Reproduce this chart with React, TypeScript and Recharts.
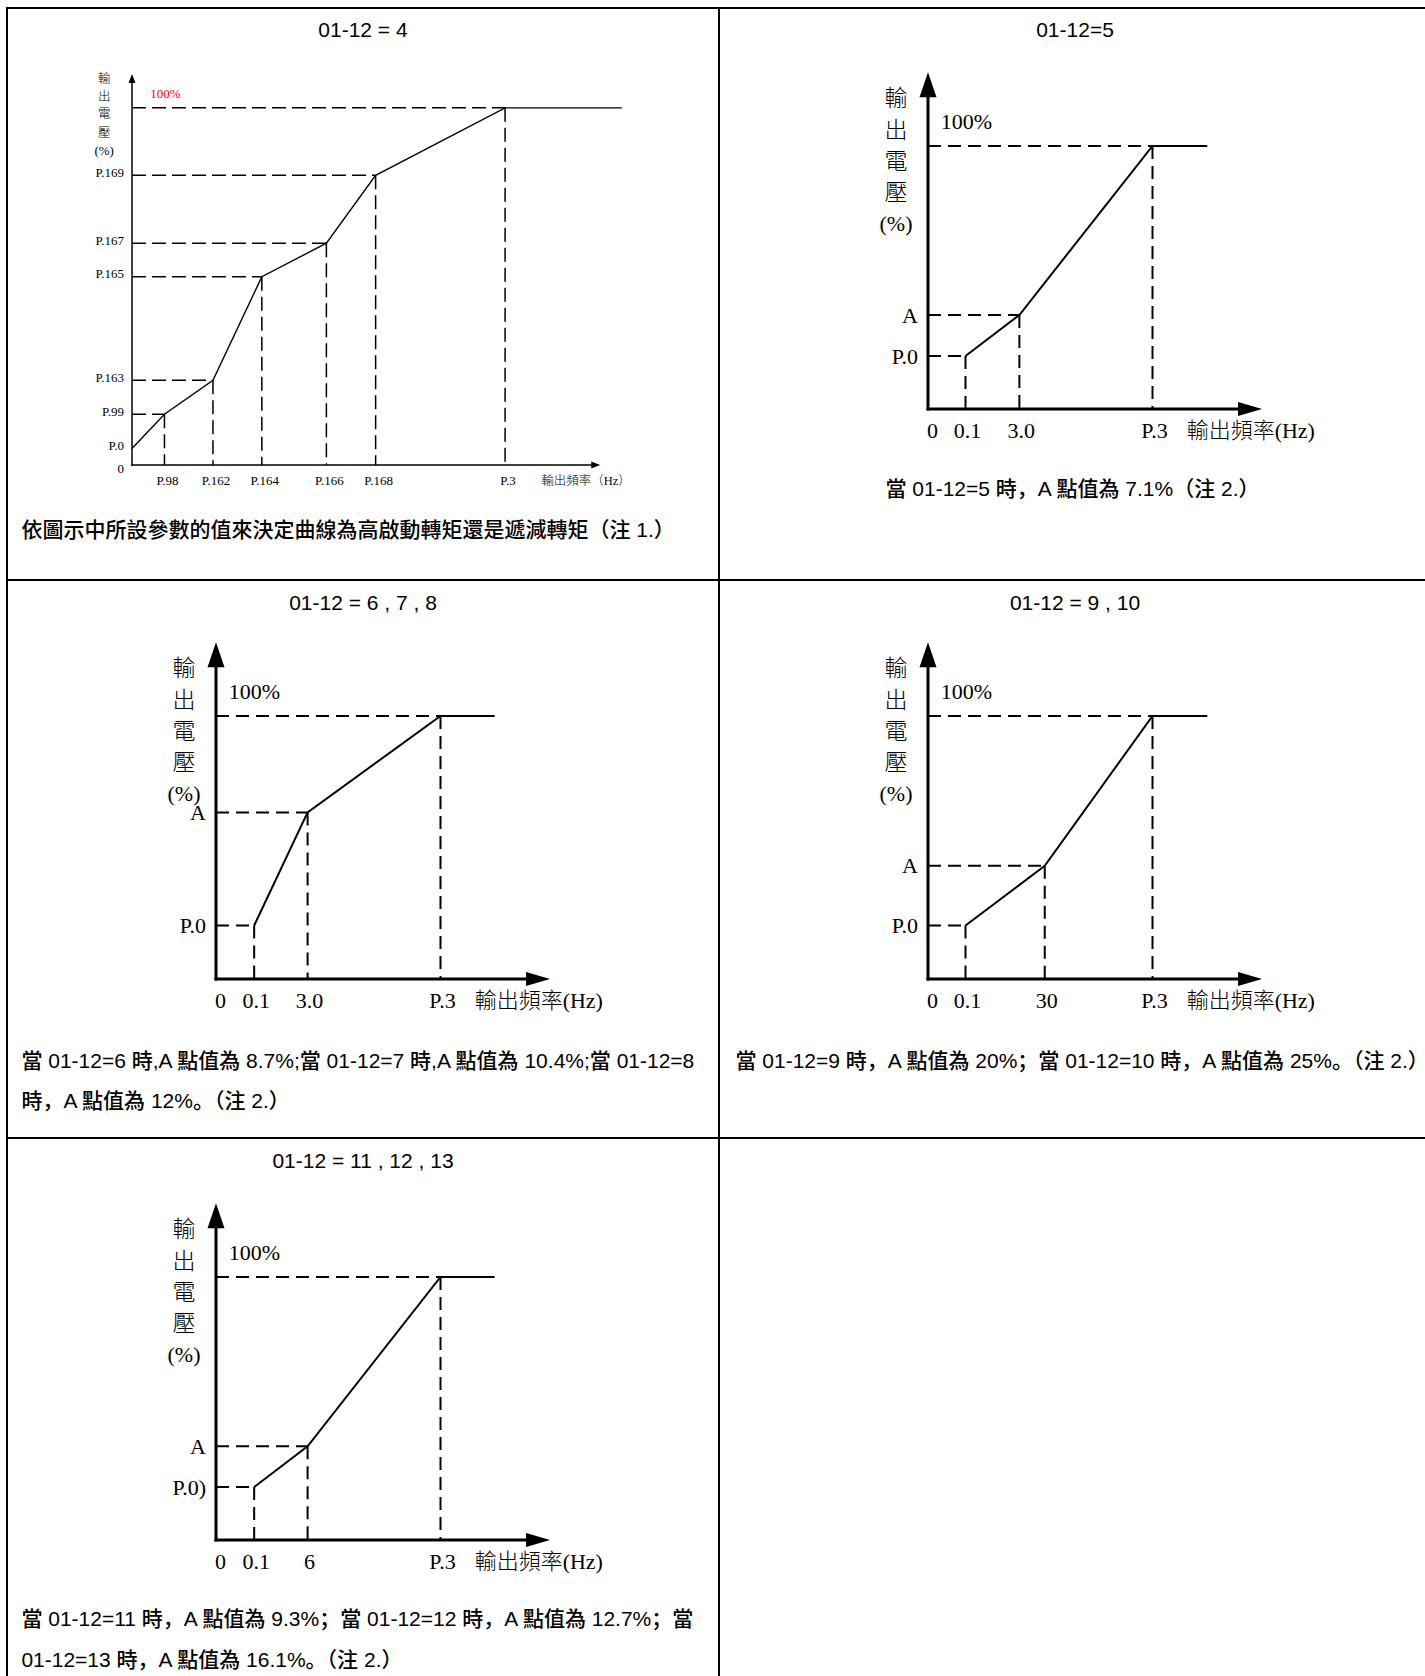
import React from 'react';
import { LineChart, Line, XAxis, YAxis, ReferenceLine, ReferenceDot } from 'recharts';

const SERIF = "'Liberation Serif', 'Times New Roman', 'Noto Sans CJK TC', serif";
const SANS = "'Liberation Sans', Arial, 'Noto Sans CJK SC', sans-serif";

// ---------------- data (x: % of P.3 frequency, y: % of output voltage) ----------------
// 01-12 = 4
const c1Freq = [0, 8.7, 21.7, 34.8, 52.1, 65.3, 100, 131.3];
const c1Volt = [4.6, 14.2, 23.7, 52.7, 62.1, 81.1, 100, 100];
const c1FreqLabels = ['', 'P.98', 'P.162', 'P.164', 'P.166', 'P.168', 'P.3', ''];
const c1VoltLabels = ['P.0', 'P.99', 'P.163', 'P.165', 'P.167', 'P.169', '', ''];
const c1Guides = [1, 2, 3, 4, 5, 6];

// 01-12 = 5
const c2Freq = [16.7, 40.7, 100, 124.4];
const c2Volt = [20.1, 35.7, 100, 100];
const c2FreqLabels = ['0.1', '3.0', 'P.3', ''];
const c2VoltLabels = ['P.0', 'A', '', ''];

// 01-12 = 6, 7, 8
const c3Freq = [17.0, 40.8, 100, 124.1];
const c3Volt = [20.3, 63.3, 100, 100];
const c3FreqLabels = ['0.1', '3.0', 'P.3', ''];
const c3VoltLabels = ['P.0', 'A', '', ''];

// 01-12 = 9, 10
const c4Freq = [16.7, 52.0, 100, 124.4];
const c4Volt = [20.3, 43.0, 100, 100];
const c4FreqLabels = ['0.1', '30', 'P.3', ''];
const c4VoltLabels = ['P.0', 'A', '', ''];

// 01-12 = 11, 12, 13
const c5Freq = [17.0, 40.8, 100, 124.1];
const c5Volt = [20.1, 35.6, 100, 100];
const c5FreqLabels = ['0.1', '6', 'P.3', ''];
const c5VoltLabels = ['P.0)', 'A', '', ''];

const abcGuides = [0, 1, 2];

const yTitleChars = ['輸', '出', '電', '壓', '(%)'];
const xTitleBig = '輸出頻率(Hz)';
const xTitleSmall = '輸出頻率（Hz）';
const fullScaleLabel = '100%';

const titles = ['01-12 = 4', '01-12=5', '01-12 = 6 , 7 , 8', '01-12 = 9 , 10', '01-12 = 11 , 12 , 13'];
const caption1 = ['依圖示中所設參數的值來決定曲線為高啟動轉矩還是遞減轉矩（注 1.）'];
const caption2 = ['當 01-12=5 時，A 點值為 7.1%（注 2.）'];
const caption3 = ['當 01-12=6 時,A 點值為 8.7%;當 01-12=7 時,A 點值為 10.4%;當 01-12=8', '時，A 點值為 12%。（注 2.）'];
const caption4 = ['當 01-12=9 時，A 點值為 20%；當 01-12=10 時，A 點值為 25%。（注 2.）'];
const caption5 = ['當 01-12=11 時，A 點值為 9.3%；當 01-12=12 時，A 點值為 12.7%；當', '01-12=13 時，A 點值為 16.1%。（注 2.）'];

// ---------------- styles ----------------
const BIG = {
  pxX: 2.245, pxY: 2.63, xMax: 150, yMax: 130, xTip: 148.8, yTip: 128,
  font: 22, cjk: 23, axisW: 3, lineW: 2, dash: '13 7', dashW: 2,
  yArrow: { len: 25, half: 8.5 }, xArrow: { len: 24, half: 7 },
  tickDy: 21.4, tickDx: 2, yTickGap: 10, yTickDy: 0,
  titleDx: -32, titleDys: [-310, -278, -247, -216, -185],
  pctDx: 12.8, pctDy: -24.6, pctColor: '#000', pctFont: 22,
  xTitleDx: 258.7, xTitleDy: 21.3, xTitleFont: 22,
};
const SMALL = {
  pxX: 3.731, pxY: 3.571, xMax: 135, yMax: 112, xTip: 125.5, yTip: 109.5,
  font: 13, cjk: 12.5, axisW: 1.5, lineW: 1.4, dash: '14 6', dashW: 1.5,
  yArrow: { len: 9, half: 3.5 }, xArrow: { len: 9, half: 3.5 },
  tickDy: 16, tickDx: 3, yTickGap: 8, yTickDy: -3,
  titleDx: -27.8, titleDys: [-386, -367.7, -350.6, -332.4, -314.3],
  pctDx: 18.2, pctDy: -14, pctColor: '#ff0000', pctFont: 13,
  xTitleDx: 409.4, xTitleDy: 16, xTitleFont: 12.5,
};

type Style = typeof BIG;

interface VProps {
  st: Style;
  ox: number;
  oy: number;
  freq: number[];
  volt: number[];
  freqLabels: string[];
  voltLabels: string[];
  guides: number[];
  zeroOnX: boolean;
  xTitle: string;
}

function VChart({ st, ox, oy, freq, volt, freqLabels, voltLabels, guides, zeroOnX, xTitle }: VProps) {
  const plotW = st.xMax * st.pxX;
  const plotH = st.yMax * st.pxY;
  const ML = 160, MT = 10, MR = 150, MB = 60;
  const width = ML + plotW + MR;
  const height = MT + plotH + MB;
  const data = freq.map((f, i) => ({ f, v: volt[i] }));

  const xTickList: { v: number; l: string }[] = [];
  if (zeroOnX) xTickList.push({ v: 0, l: '0' });
  freq.forEach((f, i) => { if (freqLabels[i]) xTickList.push({ v: f, l: freqLabels[i] }); });
  const yTickList: { v: number; l: string }[] = [];
  if (!zeroOnX) yTickList.push({ v: 0, l: '0' });
  volt.forEach((v, i) => { if (voltLabels[i]) yTickList.push({ v, l: voltLabels[i] }); });

  const XTick = (p: any) => {
    const item = xTickList.find((t) => Math.abs(t.v - p.payload.value) < 1e-6);
    if (!item) return null;
    const isZero = item.v === 0;
    return (
      <text x={p.x + (isZero ? -1 : st.tickDx)} y={p.y} textAnchor={isZero ? 'start' : 'middle'}
        dominantBaseline="central" fontFamily={SERIF} fontSize={st.font} fill="#000">{item.l}</text>
    );
  };
  const YTick = (p: any) => {
    const item = yTickList.find((t) => Math.abs(t.v - p.payload.value) < 1e-6);
    if (!item) return null;
    const dy = item.v === 0 ? 4 : st.yTickDy;
    return (
      <text x={p.x} y={p.y + dy} textAnchor="end" dominantBaseline="central"
        fontFamily={SERIF} fontSize={st.font} fill="#000">{item.l}</text>
    );
  };

  const yAxisEnd = st.yTip - (st.yArrow.len * 0.5) / st.pxY;
  const xAxisEnd = st.xTip - (st.xArrow.len * 0.5) / st.pxX;

  return (
    <div style={{ position: 'absolute', left: ox - ML, top: oy - plotH - MT }}>
      <LineChart width={width} height={height} data={data}
        margin={{ top: MT, right: MR, left: 0, bottom: 0 }} style={{ overflow: 'visible' }}>
        <XAxis type="number" dataKey="f" domain={[0, st.xMax]} ticks={xTickList.map((t) => t.v)}
          axisLine={false} tickLine={false} tickSize={0} tickMargin={st.tickDy} height={MB}
          interval={0} tick={XTick} />
        <YAxis type="number" domain={[0, st.yMax]} ticks={yTickList.map((t) => t.v)}
          axisLine={false} tickLine={false} tickSize={0} tickMargin={st.yTickGap} width={ML}
          interval={0} tick={YTick} />
        {guides.map((i) => (
          <ReferenceLine key={'h' + i} ifOverflow="visible"
            segment={[{ x: 0, y: volt[i] }, { x: freq[i], y: volt[i] }]}
            stroke="#000" strokeWidth={st.dashW} strokeDasharray={st.dash} />
        ))}
        {guides.map((i) => (
          <ReferenceLine key={'v' + i} ifOverflow="visible"
            segment={[{ x: freq[i], y: volt[i] }, { x: freq[i], y: 0 }]}
            stroke="#000" strokeWidth={st.dashW} strokeDasharray={st.dash} />
        ))}
        <ReferenceLine ifOverflow="visible" segment={[{ x: 0, y: 0 }, { x: 0, y: yAxisEnd }]}
          stroke="#000" strokeWidth={st.axisW} strokeLinecap="square" />
        <ReferenceLine ifOverflow="visible" segment={[{ x: 0, y: 0 }, { x: xAxisEnd, y: 0 }]}
          stroke="#000" strokeWidth={st.axisW} strokeLinecap="square" />
        <ReferenceDot x={0} y={st.yTip} r={0} ifOverflow="visible"
          shape={(p: any) => (
            <polygon fill="#000"
              points={`${p.cx},${p.cy} ${p.cx - st.yArrow.half},${p.cy + st.yArrow.len} ${p.cx + st.yArrow.half},${p.cy + st.yArrow.len}`} />
          )} />
        <ReferenceDot x={st.xTip} y={0} r={0} ifOverflow="visible"
          shape={(p: any) => (
            <polygon fill="#000"
              points={`${p.cx},${p.cy} ${p.cx - st.xArrow.len},${p.cy - st.xArrow.half} ${p.cx - st.xArrow.len},${p.cy + st.xArrow.half}`} />
          )} />
        <ReferenceDot x={0} y={100} r={0} ifOverflow="visible"
          shape={(p: any) => (
            <text x={p.cx + st.pctDx} y={p.cy + st.pctDy} dominantBaseline="central"
              fontFamily={SERIF} fontSize={st.pctFont} fill={st.pctColor}>{fullScaleLabel}</text>
          )} />
        <ReferenceDot x={0} y={0} r={0} ifOverflow="visible"
          shape={(p: any) => (
            <g>
              {yTitleChars.map((c, i) => (
                <text key={i} x={p.cx + st.titleDx} y={p.cy + st.titleDys[i]} textAnchor="middle"
                  dominantBaseline="central" fontFamily={SERIF} fontWeight={300}
                  fontSize={i === 4 ? st.font : st.cjk} fill="#000">{c}</text>
              ))}
              <text x={p.cx + st.xTitleDx} y={p.cy + st.xTitleDy} dominantBaseline="central"
                fontFamily={SERIF} fontWeight={300} fontSize={st.xTitleFont} fill="#000">{xTitle}</text>
            </g>
          )} />
        <Line type="linear" dataKey="v" stroke="#000" strokeWidth={st.lineW} dot={false}
          isAnimationActive={false} />
      </LineChart>
    </div>
  );
}

const lineStyle = (left: number, top: number, width: number, height: number): React.CSSProperties => ({
  position: 'absolute', left, top, width, height, background: '#000',
});

function Title({ text, left, width, cy }: { text: string; left: number; width: number; cy: number }) {
  return (
    <div style={{ position: 'absolute', left, width, top: cy - 13, height: 26, lineHeight: '26px',
      textAlign: 'center', fontFamily: SANS, fontSize: 21, color: '#000', whiteSpace: 'nowrap' }}>{text}</div>
  );
}

function Caption({ lines, left, cys, center, width }: { lines: string[]; left: number; cys: number[]; center?: boolean; width?: number }) {
  return (
    <>
      {lines.map((l, i) => (
        <div key={i} style={{ position: 'absolute', left, top: cys[i] - 15, height: 30, lineHeight: '30px',
          width: center ? width : undefined, textAlign: center ? 'center' : 'left',
          fontFamily: SANS, fontSize: 21, fontWeight: 500, color: '#000', whiteSpace: 'nowrap' }}>{l}</div>
      ))}
    </>
  );
}

export default function App() {
  return (
    <div style={{ position: 'absolute', left: 0, top: 0, width: 1425, height: 1676, overflow: 'hidden', background: '#fff' }}>
      {/* table grid */}
      <div style={lineStyle(6, 7, 1430, 2)} />
      <div style={lineStyle(6, 7, 2, 1700)} />
      <div style={lineStyle(718, 7, 2, 1700)} />
      <div style={lineStyle(6, 579, 1430, 2)} />
      <div style={lineStyle(6, 1137, 1430, 2)} />

      <Title text={titles[0]} left={8} width={710} cy={30} />
      <Title text={titles[1]} left={720} width={710} cy={30} />
      <Title text={titles[2]} left={8} width={710} cy={603} />
      <Title text={titles[3]} left={720} width={710} cy={603} />
      <Title text={titles[4]} left={8} width={710} cy={1161} />

      <VChart st={SMALL} ox={131.5} oy={465} freq={c1Freq} volt={c1Volt} freqLabels={c1FreqLabels}
        voltLabels={c1VoltLabels} guides={c1Guides} zeroOnX={false} xTitle={xTitleSmall} />
      <VChart st={BIG} ox={927.9} oy={408.4} freq={c2Freq} volt={c2Volt} freqLabels={c2FreqLabels}
        voltLabels={c2VoltLabels} guides={abcGuides} zeroOnX={true} xTitle={xTitleBig} />
      <VChart st={BIG} ox={215.9} oy={979.2} freq={c3Freq} volt={c3Volt} freqLabels={c3FreqLabels}
        voltLabels={c3VoltLabels} guides={abcGuides} zeroOnX={true} xTitle={xTitleBig} />
      <VChart st={BIG} ox={927.9} oy={979.2} freq={c4Freq} volt={c4Volt} freqLabels={c4FreqLabels}
        voltLabels={c4VoltLabels} guides={abcGuides} zeroOnX={true} xTitle={xTitleBig} />
      <VChart st={BIG} ox={215.9} oy={1539.4} freq={c5Freq} volt={c5Volt} freqLabels={c5FreqLabels}
        voltLabels={c5VoltLabels} guides={abcGuides} zeroOnX={true} xTitle={xTitleBig} />

      <Caption lines={caption1} left={21.4} cys={[530]} />
      <Caption lines={caption2} left={720} width={705} center cys={[488.5]} />
      <Caption lines={caption3} left={21.4} cys={[1060.5, 1101]} />
      <Caption lines={caption4} left={735.5} cys={[1060.5]} />
      <Caption lines={caption5} left={21.4} cys={[1618.5, 1660]} />
    </div>
  );
}
